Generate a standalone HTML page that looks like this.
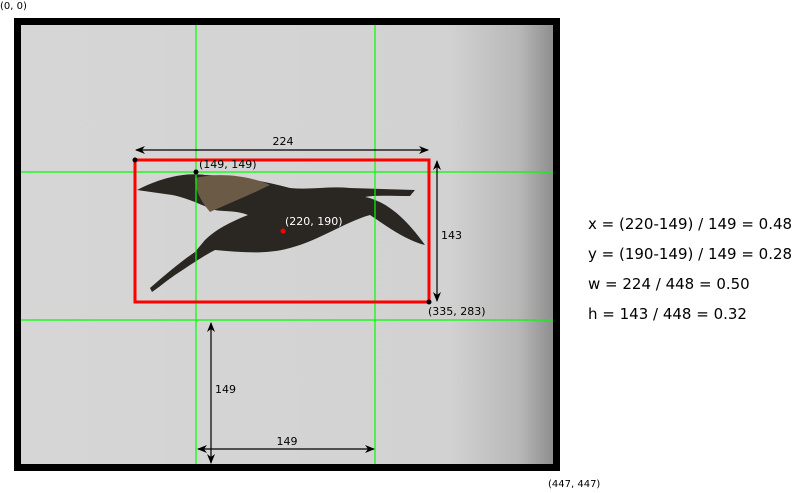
<!DOCTYPE html>
<html><head><meta charset="utf-8"><style>
html,body{margin:0;padding:0;background:#fff;}
body{width:800px;height:489px;overflow:hidden;font-family:"DejaVu Sans","Liberation Sans",sans-serif;}
</style></head><body>
<svg width="800" height="489" viewBox="0 0 800 489" font-family="DejaVu Sans, Liberation Sans, sans-serif">
<defs>
<linearGradient id="bg" x1="0" x2="1" y1="0" y2="0">
<stop offset="0" stop-color="#d6d6d6"/><stop offset="0.8" stop-color="#d2d2d2"/><stop offset="0.93" stop-color="#b8b8b8"/><stop offset="1" stop-color="#8a8a8a"/>
</linearGradient>
<marker id="ah" markerWidth="10" markerHeight="8" refX="9" refY="4" orient="auto-start-reverse" markerUnits="userSpaceOnUse"><path d="M0,0 L10,4 L0,8 L3,4 Z" fill="#000"/></marker>
</defs>
<text x="0" y="9" font-size="10" fill="#000">(0, 0)</text>
<rect x="17.5" y="21.5" width="539" height="446" fill="url(#bg)" stroke="#000" stroke-width="7"/>
<g fill="#2a2622">
<path d="M137,190 C160,178 185,172 205,175 C235,176 260,180 290,188 C310,190 330,186 350,188 L415,190 L410,196 C390,196 375,195 365,197 C380,200 400,210 425,245 C405,240 385,225 370,215 C345,222 320,240 290,248 C265,255 240,252 215,250 C205,255 190,265 175,275 C165,282 158,288 152,292 L150,288 C165,275 180,262 195,252 L205,240 C215,230 230,222 248,215 C235,210 225,212 215,210 C200,205 185,196 165,194 Z"/>
<path d="M195,178 C220,172 250,176 270,185 C250,195 225,205 210,212 C200,200 195,190 195,178 Z" fill="#6b5a45"/>
</g>
<g stroke="#00ff00" stroke-width="1.2">
<line x1="196" y1="25" x2="196" y2="464"/>
<line x1="375" y1="25" x2="375" y2="464"/>
<line x1="21" y1="172" x2="553" y2="172"/>
<line x1="21" y1="320" x2="553" y2="320"/>
</g>
<rect x="135" y="160" width="294" height="142" fill="none" stroke="#ff0000" stroke-width="3"/>
<g stroke="#000" stroke-width="1.2" fill="none">
<line x1="136" y1="150" x2="428" y2="150" marker-start="url(#ah)" marker-end="url(#ah)"/>
<line x1="437" y1="161" x2="437" y2="301" marker-start="url(#ah)" marker-end="url(#ah)"/>
<line x1="211" y1="323" x2="211" y2="463" marker-start="url(#ah)" marker-end="url(#ah)"/>
<line x1="198" y1="449" x2="374" y2="449" marker-start="url(#ah)" marker-end="url(#ah)"/>
</g>
<g font-size="11" fill="#000">
<text x="283" y="145" text-anchor="middle">224</text>
<text x="441" y="239">143</text>
<text x="215" y="393">149</text>
<text x="287" y="445" text-anchor="middle">149</text>
<text x="199" y="168">(149, 149)</text>
<text x="285" y="225" fill="#fff">(220, 190)</text>
<text x="428" y="315">(335, 283)</text>
<text x="548" y="487" font-size="10">(447, 447)</text>
</g>
<circle cx="135" cy="160" r="2.5" fill="#000"/>
<circle cx="196" cy="172" r="2.5" fill="#000"/>
<circle cx="283" cy="231" r="2.5" fill="#ff0000"/>
<circle cx="429" cy="302" r="2.5" fill="#000"/>
<g font-size="15" fill="#000">
<text x="588" y="229">x = (220-149) / 149 = 0.48</text>
<text x="588" y="259">y = (190-149) / 149 = 0.28</text>
<text x="588" y="289">w = 224 / 448 = 0.50</text>
<text x="588" y="319">h = 143 / 448 = 0.32</text>
</g>
</svg>
</body></html>
